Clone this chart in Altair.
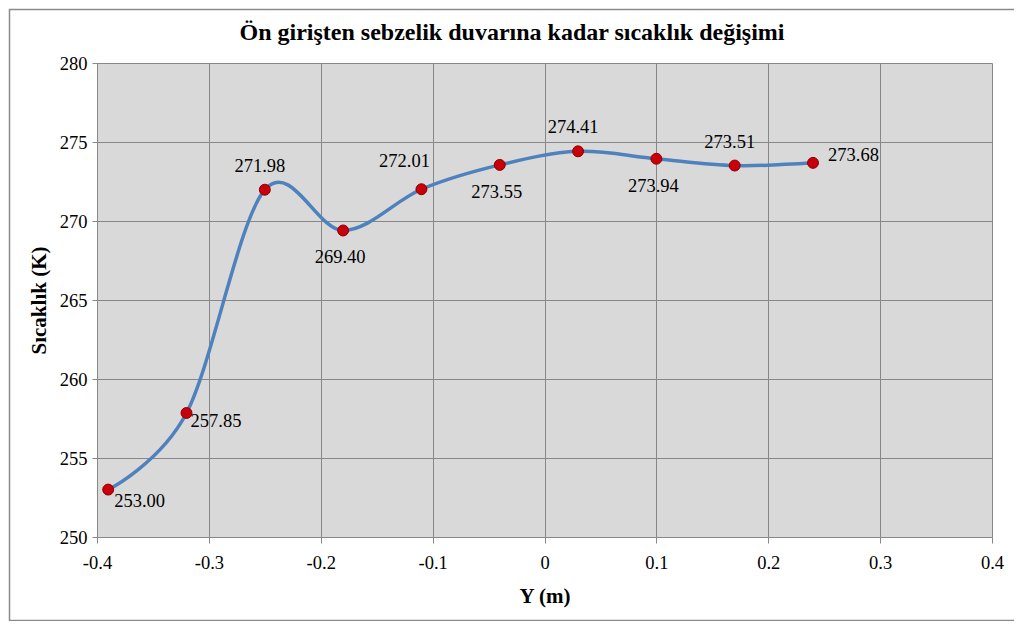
import altair as alt
import pandas as pd

# ---- data ----
x_vals = [-0.39, -0.32, -0.25, -0.18, -0.11, -0.04, 0.03, 0.10, 0.17, 0.24]
temps = [253.00, 257.85, 271.98, 269.40, 272.01, 273.55, 274.41, 273.94, 273.51, 273.68]
placement = ["below-right", "right-low", "above", "below", "above-left",
             "below", "above", "below", "above", "right"]
x_ticks = [-0.4, -0.3, -0.2, -0.1, 0.0, 0.1, 0.2, 0.3, 0.4]
y_ticks = [250, 255, 260, 265, 270, 275, 280]
chart_title = "Ön girişten sebzelik duvarına kadar sıcaklık değişimi"
x_title = "Y (m)"
y_title = "Sıcaklık (K)"

df = pd.DataFrame({"x": x_vals, "t": temps, "place": placement})
df["label"] = [f"{v:.2f}" for v in temps]

FONT = "Times New Roman, Liberation Serif, DejaVu Serif, serif"
GRID = "#878787"
W, H = 895, 474

xs = alt.Scale(domain=[-0.4, 0.4], nice=False, zero=False)
ys = alt.Scale(domain=[250, 280], nice=False, zero=False)

x_enc = alt.X(
    "x:Q", scale=xs, title=x_title,
    axis=alt.Axis(
        values=x_ticks,
        labelExpr="datum.value < 0 ? '-' + format(-datum.value, '.1~f') : format(datum.value, '.1~f')",
        grid=True, gridColor=GRID, domainColor=GRID, tickColor=GRID,
        tickSize=6, labelPadding=10, labelFont=FONT, labelFontSize=18.5,
        labelColor="black", titleFont=FONT, titleFontSize=21, titleFontWeight="bold",
        titleColor="black", titlePadding=14, labelFlush=False,
    ),
)
y_enc = alt.Y(
    "t:Q", scale=ys, title=y_title,
    axis=alt.Axis(
        values=y_ticks, format="d",
        grid=True, gridColor=GRID, domainColor=GRID, tickColor=GRID,
        tickSize=5, labelPadding=5, labelFont=FONT, labelFontSize=18.5,
        labelColor="black", titleFont=FONT, titleFontSize=21, titleFontWeight="bold",
        titleColor="black", titlePadding=10,
    ),
)

base = alt.Chart(df)

line = base.mark_line(interpolate="cardinal", tension=0, color="#4f81bd",
                      strokeWidth=3.5).encode(x=x_enc, y=y_enc)

points = base.mark_point(filled=True, fill="#c8000a", stroke="#8b0000",
                         strokeWidth=1, size=120, opacity=1).encode(
    x=alt.X("x:Q", scale=xs), y=alt.Y("t:Q", scale=ys))

# label placement -> (align, dx, dy)
offsets = {
    "below-right": ("left", 6, 11),
    "right-low": ("left", 4, 8),
    "above": ("center", -5, -24),
    "below": ("center", -3, 27),
    "above-left": ("center", -17, -28),
    "right": ("left", 15, -8),
}
label_layers = []
for key, (al, dx, dy) in offsets.items():
    label_layers.append(
        base.transform_filter(alt.datum.place == key).mark_text(
            align=al, baseline="middle", dx=dx, dy=dy, font=FONT,
            fontSize=18.5, color="black").encode(
            x=alt.X("x:Q", scale=xs), y=alt.Y("t:Q", scale=ys), text="label:N")
    )

title_mark = alt.Chart(pd.DataFrame({"t": [chart_title]})).mark_text(
    font=FONT, fontSize=24, fontWeight="bold", color="black",
    align="center", baseline="middle").encode(
    x=alt.value(415), y=alt.value(-30), text="t:N")

border = alt.Chart(pd.DataFrame({"a": [0]})).mark_rect(
    filled=False, stroke="#8a8a8a", strokeWidth=1.5).encode(
    x=alt.value(-87.5), x2=alt.value(920.5),
    y=alt.value(-53.5), y2=alt.value(557.5))

chart = alt.layer(line, points, *label_layers, title_mark, border).properties(
    width=W, height=H,
    autosize=alt.AutoSizeParams(type="none"),
    padding={"left": 89, "top": 55, "right": 22, "bottom": 84},
    background="white",
).configure_view(fill="#d9d9d9", strokeWidth=0)

chart.save("out.html", embed_options={"renderer": "svg", "actions": False})
